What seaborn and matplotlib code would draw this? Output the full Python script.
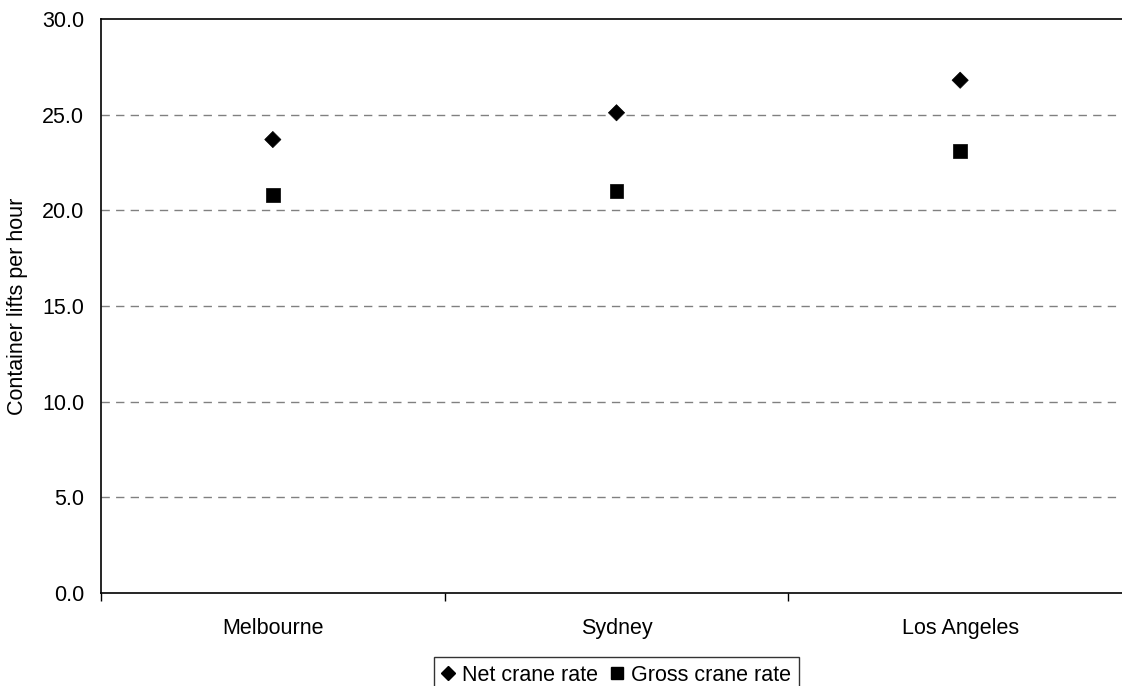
import pandas as pd
import seaborn as sns
import numpy as np
import matplotlib.pyplot as plt
from matplotlib.lines import Line2D

sns.set_style(style='white')
plt.rcParams['font.family'] = ['Liberation Sans', 'DejaVu Sans']
plt.rcParams['text.color'] = 'black'
plt.rcParams['axes.labelcolor'] = 'black'
plt.rcParams['xtick.color'] = 'black'
plt.rcParams['ytick.color'] = 'black'

ports = ['Melbourne', 'Sydney', 'Los Angeles']
net_rate = [23.7, 25.1, 26.8]
gross_rate = [20.8, 21.0, 23.1]
y_ticks = [0, 5, 10, 15, 20, 25, 30]

df = pd.DataFrame({'port': ports * 2,
                   'rate': net_rate + gross_rate,
                   'series': ['Net crane rate'] * 3 + ['Gross crane rate'] * 3})

fig = plt.figure(figsize=(11.22, 6.86), dpi=100)
ax = fig.add_axes([101 / 1122, 93 / 686, 1031 / 1122, 574 / 686])

sns.scatterplot(data=df, x='port', y='rate', style='series',
                markers={'Net crane rate': 'D', 'Gross crane rate': 's'},
                size='series', sizes={'Net crane rate': 68, 'Gross crane rate': 95},
                color='black', edgecolor='black', linewidth=0.5,
                legend=False, ax=ax, zorder=3)

ax.set_xlim(-0.5, 2.5)
ax.set_ylim(0, 30)
ax.set_yticks(y_ticks)
ax.set_yticklabels([f'{v:.1f}' for v in y_ticks], fontsize=15.5)
for v in y_ticks[1:-1]:
    ax.axhline(v, color='#808080', linewidth=1, linestyle=(0, (6, 4.5)), zorder=1)

ax.set_xticks(range(len(ports)))
ax.set_xticklabels(ports, fontsize=15.5)
ax.set_xticks(np.arange(-0.5, len(ports), 1), minor=True)
ax.tick_params(axis='x', which='major', bottom=False, length=0, pad=18)
ax.tick_params(axis='x', which='minor', bottom=True, length=6, width=1,
               color='black', direction='out')
ax.tick_params(axis='y', left=False, length=0, pad=12)
ax.set_xlabel('')
ax.set_ylabel('Container lifts per hour', fontsize=15.5, labelpad=10)

for side in ['left', 'bottom', 'top']:
    ax.spines[side].set_color('black')
    ax.spines[side].set_linewidth(1.2)
ax.spines['right'].set_visible(False)

handles = [Line2D([], [], marker='D', linestyle='', color='black', markersize=7),
           Line2D([], [], marker='s', linestyle='', color='black', markersize=9)]
leg = fig.legend(handles, ['Net crane rate', 'Gross crane rate'],
                 loc='upper center', bbox_to_anchor=(616.5 / 1122, 1 - 657 / 686),
                 ncol=2, frameon=True, fancybox=False, fontsize=15.5,
                 handlelength=0.6, handletextpad=0.35, columnspacing=0.6,
                 borderpad=0.35, borderaxespad=0)
leg.get_frame().set_edgecolor('black')
leg.get_frame().set_linewidth(1)

fig.savefig('out.png', dpi=100)
